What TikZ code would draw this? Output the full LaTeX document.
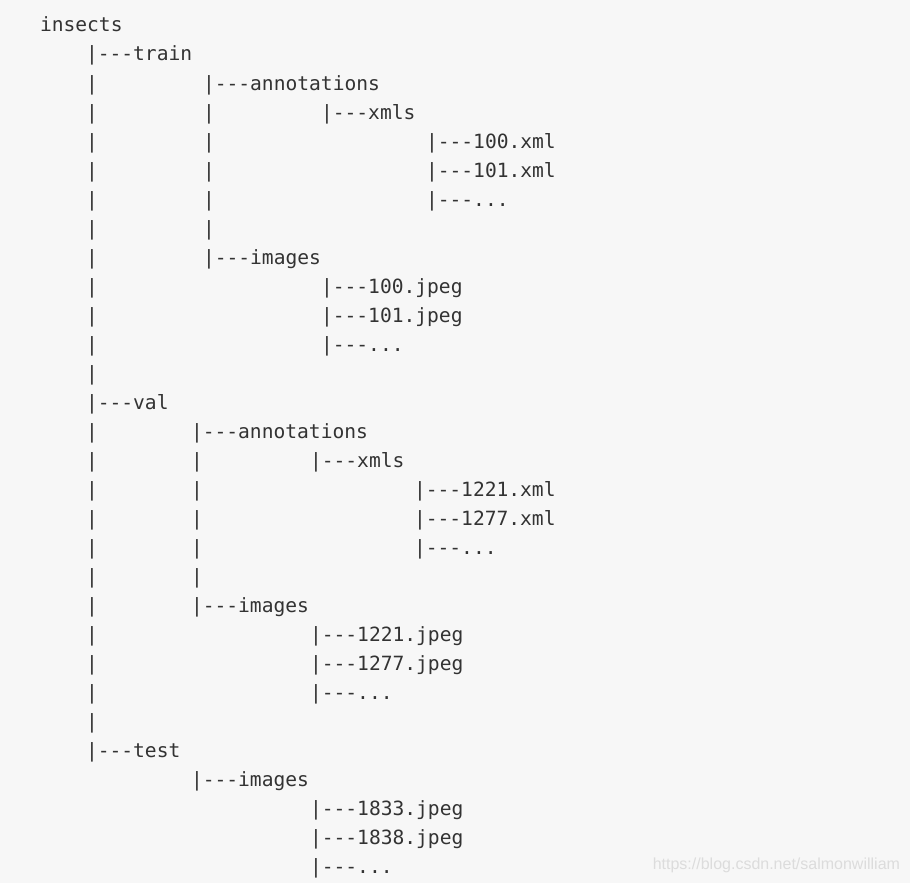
\documentclass[tikz,border=0pt]{standalone}
\usepackage{fontspec}
\setmonofont{DejaVu Sans Mono}
\setsansfont{Liberation Sans}
\usepackage{xcolor}
\usetikzlibrary{positioning}
\definecolor{codebg}{HTML}{F7F7F7}
\definecolor{codefg}{HTML}{333333}
\definecolor{wmark}{HTML}{DCDCDC}

\begin{document}
\begin{tikzpicture}[x=1pt,y=1pt,
  every node/.style={inner sep=0pt,outer sep=0pt},
  entry/.style={anchor=base west,text=codefg,
    font=\ttfamily\fontsize{19.6}{19.6}\selectfont}]
  \fill[codebg] (0,0) rectangle (910,-883);
  \useasboundingbox (0,0) rectangle (910,-883);
  \begin{scope}[yshift=-3pt,y=-29pt]
    % root
    \node[entry] (root) at (40,1) {insects};
    % plain bars of the outer column
    \foreach \r in {3,...,13,15,16,...,25}
      \node[entry] (bar\r) at (86,\r) {|};
    % train
    \node[entry] (train) at (86,2) {|---train};
    \foreach \r in {4,...,8}
      \node[entry] (tbar\r) at (203,\r) {|};
    \node[entry] (tann) at (203,3) {|---annotations};
    \node[entry] (txml) at (321,4) {|---xmls};
    \node[entry] (tx100) at (426,5) {|---100.xml};
    \node[entry] (tx101) at (426,6) {|---101.xml};
    \node[entry] (txdot) at (426,7) {|---...};
    \node[entry] (timg) at (203,9) {|---images};
    \node[entry] (tj100) at (321,10) {|---100.jpeg};
    \node[entry] (tj101) at (321,11) {|---101.jpeg};
    \node[entry] (tjdot) at (321,12) {|---...};
    % val
    \node[entry] (val) at (86,14) {|---val};
    \foreach \r in {16,...,20}
      \node[entry] (vbar\r) at (191,\r) {|};
    \node[entry] (vann) at (191,15) {|---annotations};
    \node[entry] (vxml) at (310,16) {|---xmls};
    \node[entry] (vx1221) at (414,17) {|---1221.xml};
    \node[entry] (vx1277) at (414,18) {|---1277.xml};
    \node[entry] (vxdot) at (414,19) {|---...};
    \node[entry] (vimg) at (191,21) {|---images};
    \node[entry] (vj1221) at (310,22) {|---1221.jpeg};
    \node[entry] (vj1277) at (310,23) {|---1277.jpeg};
    \node[entry] (vjdot) at (310,24) {|---...};
    % test
    \node[entry] (test) at (86,26) {|---test};
    \node[entry] (simg) at (191,27) {|---images};
    \node[entry] (sj1833) at (310,28) {|---1833.jpeg};
    \node[entry] (sj1838) at (310,29) {|---1838.jpeg};
    \node[entry] (sjdot) at (310,30) {|---...};
  \end{scope}
  % watermark
  \node[anchor=base east,text=wmark,font=\sffamily\fontsize{16}{16}\selectfont]
    (mark) at (900,-869) {https://blog.csdn.net/salmonwilliam};
\end{tikzpicture}
\end{document}
